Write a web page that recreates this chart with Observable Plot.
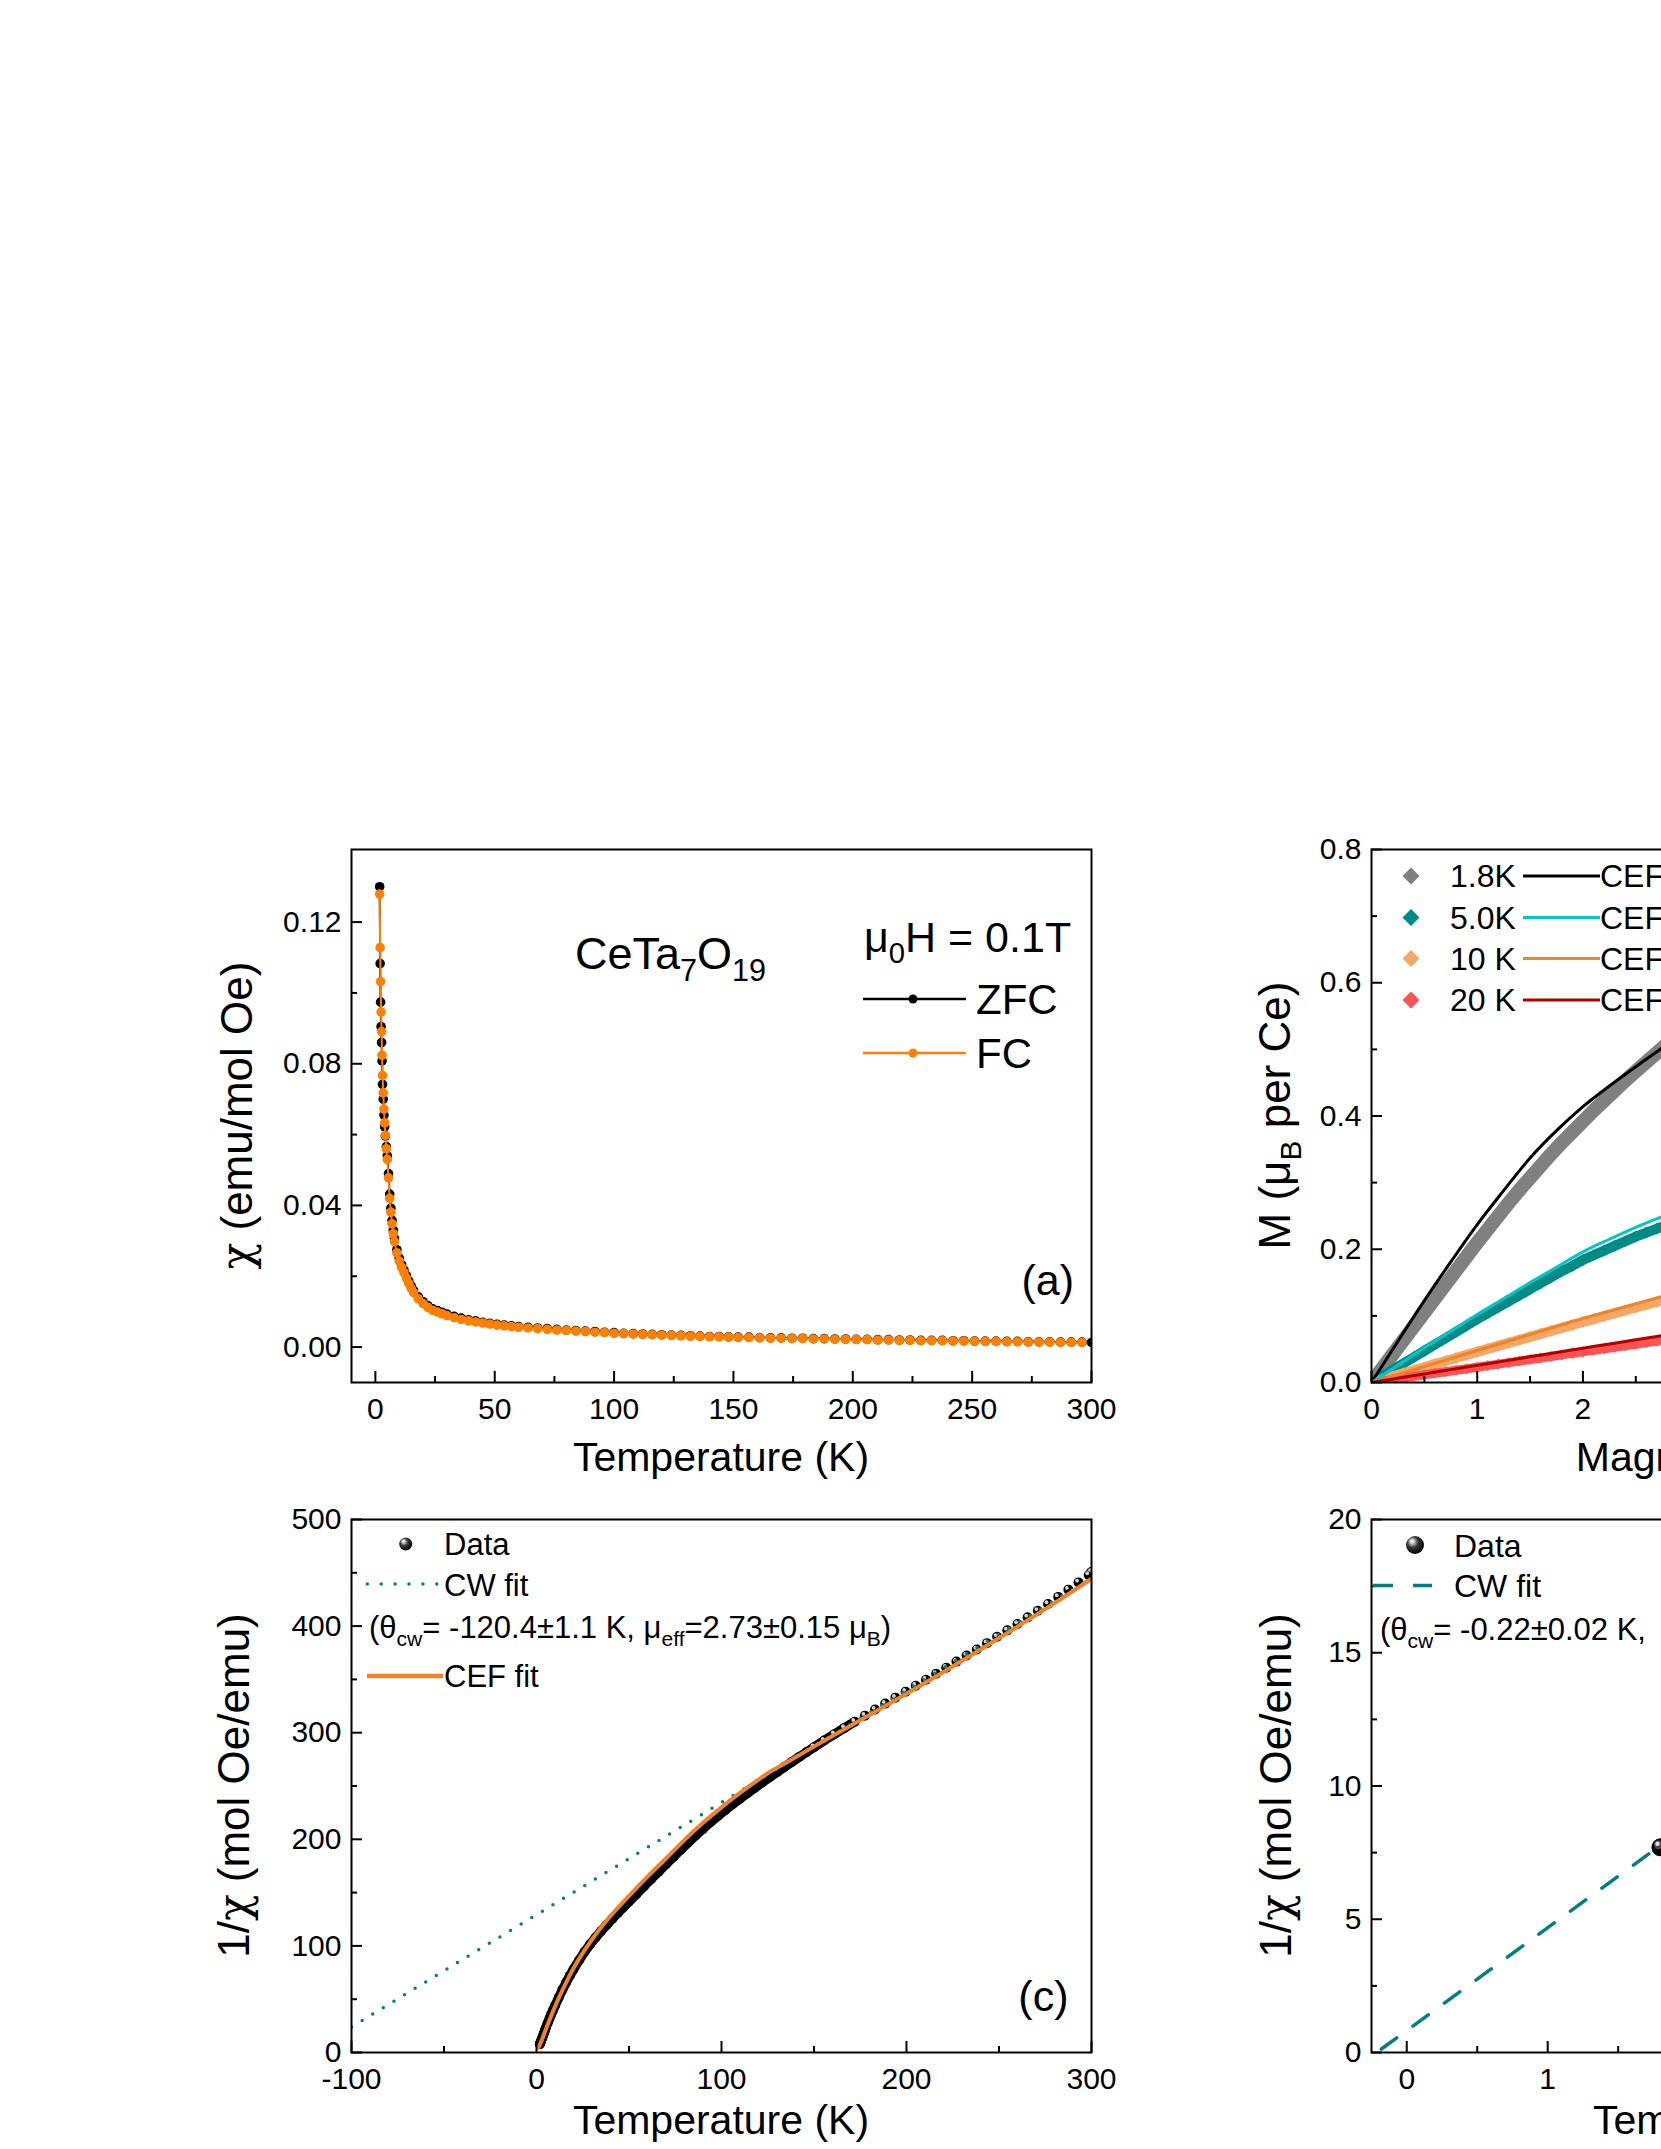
<!DOCTYPE html>
<html>
<head>
<meta charset="utf-8">
<script src="https://cdn.jsdelivr.net/npm/d3@7"></script>
<script src="https://cdn.jsdelivr.net/npm/@observablehq/plot@0.6"></script>
<style>
html, body { margin:0; padding:0; background:#fff; overflow:hidden; }
#fig { position:relative; width:1661px; height:2149px; overflow:hidden; background:#fff; }
#fig > svg { position:absolute; }
</style>
</head>
<body>
<div id="fig"></div>
<script>
// ================= DATA =================
// Panel (a): chi(T), ZFC and FC at mu0H = 0.1 T
const tempA = [
  1.8, 2.0, 2.2, 2.4, 2.6, 2.8, 3.0, 3.3, 3.6, 3.9, 4.2, 4.6, 5.0,
  5.5, 6.0, 6.5, 7.0, 7.5, 8, 9, 10, 11, 12, 13, 14, 15, 16,
  18, 20, 22, 24, 26, 28, 30, 33, 36, 39, 42, 45, 48, 51, 54, 57, 60,
  64, 68, 72, 76, 80, 84, 88, 92, 96, 100, 104, 108, 112, 116, 120, 124, 128, 132, 136, 140,
  144, 148, 152, 156.5, 161, 165.5, 170, 174.5, 179, 183.5, 188, 192.5, 197, 201.5, 206, 210.5, 215, 219.5, 224, 228.5,
  233, 237.5, 242, 246.5, 251, 255.5, 260, 264.5, 269, 273.5, 278, 282.5, 287, 291.5, 296, 300
];
const chiZFC = [
  0.1300, 0.1083, 0.0974, 0.0905, 0.0860, 0.0808, 0.0742, 0.0700, 0.0655, 0.0622, 0.0596, 0.0566, 0.0540,
  0.0490, 0.0432, 0.0392, 0.0358, 0.0330, 0.0307, 0.0275, 0.0251, 0.0233, 0.0217, 0.0202, 0.0187, 0.0173, 0.0160,
  0.0142, 0.0128, 0.0117, 0.0108, 0.0103, 0.0098, 0.0093, 0.0087, 0.0082, 0.0077, 0.0074, 0.0070, 0.0067, 0.0064, 0.0062, 0.0060, 0.0058,
  0.0056, 0.0054, 0.0052, 0.0050, 0.0048, 0.0047, 0.0045, 0.0044, 0.0042, 0.0041, 0.0039, 0.0038, 0.0037, 0.0036, 0.0035, 0.0034, 0.0033, 0.0032, 0.0031, 0.0030,
  0.0030, 0.0029, 0.0028, 0.0028, 0.0027, 0.0026, 0.0026, 0.0025, 0.0025, 0.0024, 0.0024, 0.0023, 0.0023, 0.0022, 0.0022, 0.0021, 0.0021, 0.0020, 0.0020, 0.0019,
  0.0019, 0.0019, 0.0018, 0.0018, 0.0017, 0.0017, 0.0017, 0.0016, 0.0016, 0.0015, 0.0015, 0.0015, 0.0014, 0.0014, 0.0014, 0.0013
];
const chiFC = [
  0.1279, 0.1128, 0.1032, 0.0946, 0.0891, 0.0824, 0.0767, 0.0718, 0.0672, 0.0633, 0.0598, 0.0560, 0.0530,
  0.0478, 0.0420, 0.0381, 0.0348, 0.0320, 0.0298, 0.0266, 0.0243, 0.0225, 0.0210, 0.0195, 0.0180, 0.0166, 0.0154,
  0.0136, 0.0123, 0.0112, 0.0104, 0.0099, 0.0094, 0.0089, 0.0083, 0.0078, 0.0074, 0.0071, 0.0068, 0.0065, 0.0062, 0.0060, 0.0058, 0.0056,
  0.0054, 0.0052, 0.0050, 0.0048, 0.0047, 0.0045, 0.0044, 0.0042, 0.0041, 0.0039, 0.0038, 0.0037, 0.0036, 0.0035, 0.0034, 0.0033, 0.0032, 0.0031, 0.0030, 0.0029,
  0.0029, 0.0028, 0.0027, 0.0027, 0.0026, 0.0025, 0.0025, 0.0024, 0.0024, 0.0023, 0.0023, 0.0022, 0.0022, 0.0021, 0.0021, 0.0020, 0.0020, 0.0019, 0.0019, 0.0018,
  0.0018, 0.0018, 0.0017, 0.0017, 0.0016, 0.0016, 0.0016, 0.0015, 0.0015, 0.0014, 0.0014, 0.0014, 0.0013, 0.0013, 0.0013
];
const xTicksA = [0, 50, 100, 150, 200, 250, 300];
const xMinorA = [25, 75, 125, 175, 225, 275];
const yTicksA = [0, 0.04, 0.08, 0.12];
const yMinorA = [0.02, 0.06, 0.10];

// Panel (b): M(H) at four temperatures + CEF fits
const fieldH = [0, 0.1, 0.2, 0.3, 0.4, 0.5, 0.6, 0.7, 0.8, 0.9, 1.0, 1.1, 1.2, 1.3, 1.4, 1.5, 1.6, 1.7, 1.8, 1.9, 2.0, 2.1, 2.2, 2.3, 2.4, 2.5, 2.6, 2.7, 2.8, 2.9];
const mag18K = [0, 0.021, 0.042, 0.063, 0.084, 0.105, 0.126, 0.147, 0.168, 0.189, 0.210, 0.230, 0.250, 0.270, 0.289, 0.307, 0.325, 0.343, 0.360, 0.376, 0.392, 0.408, 0.423, 0.438, 0.453, 0.467, 0.481, 0.495, 0.509, 0.522];
const mag50K = [0, 0.0095, 0.019, 0.0285, 0.038, 0.0475, 0.057, 0.0665, 0.076, 0.0855, 0.095, 0.104, 0.113, 0.122, 0.131, 0.140, 0.149, 0.158, 0.167, 0.175, 0.184, 0.191, 0.198, 0.205, 0.212, 0.219, 0.225, 0.231, 0.237, 0.243];
const mag10K = [0, 0.0046, 0.0092, 0.0138, 0.0184, 0.023, 0.0276, 0.0322, 0.0368, 0.0414, 0.046, 0.0505, 0.055, 0.0595, 0.064, 0.0685, 0.073, 0.0775, 0.082, 0.0864, 0.0908, 0.0952, 0.0996, 0.104, 0.1083, 0.1126, 0.1168, 0.121, 0.1252, 0.1293];
const mag20K = [0, 0.0023, 0.0046, 0.0069, 0.0092, 0.0115, 0.0138, 0.0161, 0.0184, 0.0207, 0.023, 0.0253, 0.0276, 0.0299, 0.0322, 0.0345, 0.0368, 0.0391, 0.0414, 0.0437, 0.046, 0.0483, 0.0506, 0.0529, 0.0552, 0.0575, 0.0598, 0.0621, 0.0644, 0.0667];
const fitH = [0, 0.25, 0.5, 0.75, 1.0, 1.25, 1.5, 1.75, 2.0, 2.25, 2.5, 2.75, 3.0];
const fit18K = [0, 0.062, 0.123, 0.181, 0.237, 0.288, 0.337, 0.378, 0.414, 0.445, 0.474, 0.502, 0.528];
const fit50K = [0, 0.026, 0.052, 0.077, 0.102, 0.126, 0.150, 0.173, 0.196, 0.215, 0.233, 0.249, 0.264];
const fit10K = [0, 0.012, 0.024, 0.036, 0.048, 0.060, 0.072, 0.084, 0.096, 0.107, 0.118, 0.129, 0.140];
const fit20K = [0, 0.0064, 0.0129, 0.0193, 0.0257, 0.0321, 0.0385, 0.045, 0.0514, 0.0578, 0.0642, 0.0705, 0.0768];
const seriesLabelsB = ["1.8K", "5.0K", "10 K", "20 K"];
const xTicksB = [0, 1, 2, 3, 4, 5, 6, 7];
const xMinorB = [0.5, 1.5, 2.5, 3.5, 4.5, 5.5, 6.5];
const yTicksB = [0, 0.2, 0.4, 0.6, 0.8];
const yMinorB = [0.1, 0.3, 0.5, 0.7];

// Panel (c): 1/chi(T) with Curie-Weiss and CEF fits
const tempC = [
  1.8, 2.0, 2.3, 2.6, 3.0, 3.5, 4.0, 4.5, 5.0,
  6, 7, 8, 9, 10, 12, 14, 16, 18, 20,
  23, 26, 29, 32, 35, 38, 41, 44, 47, 50,
  54, 58, 62, 66, 70, 74, 78, 82, 86, 90,
  94, 98, 102, 106, 110, 114, 118, 122, 126, 130,
  134, 138, 142, 146, 150,
  155.5, 161, 166.5, 172, 177.5, 183, 188.5, 194, 199.5, 205,
  210.5, 216, 221.5, 227, 232.5, 238, 243.5, 249, 254.5, 260,
  265.5, 271, 276.5, 282, 287.5, 293, 298.5, 300
];
const invChi = [
  7.7, 8.6, 10.0, 11.4, 13.3, 15.7, 18.1, 20.5, 22.9,
  27.5, 31.8, 36.0, 40.0, 43.9, 51.5, 58.8, 65.6, 72.0, 78.0,
  86.5, 94.5, 101.5, 108.0, 114.0, 119.8, 125.4, 130.9, 136.3, 141.6,
  148.6, 155.8, 162.8, 169.6, 176.6, 183.5, 190.3, 197.0, 203.5, 209.8,
  216.0, 221.8, 227.4, 232.8, 238.0, 243.2, 248.3, 253.3, 258.2, 263.0,
  267.8, 272.5, 277.2, 281.8, 286.4,
  292.6, 298.6, 304.5, 310.3, 316.0, 321.7, 327.3, 332.9, 338.5, 344.1,
  349.7, 355.3, 361.0, 366.7, 372.4, 378.1, 384.0, 390.0, 396.0, 402.0,
  408.2, 414.4, 420.8, 427.4, 434.2, 441.0, 448.0, 451.0
];
const tempCEF = [1, 2, 5, 10, 15, 20, 30, 40, 50, 60, 70, 80, 90, 100, 110, 120, 125, 130, 140, 150, 160, 180, 200, 220, 240, 260, 280, 300];
const invCEF  = [4.5, 8.0, 21.5, 43.0, 62.0, 79.0, 106.0, 128.0, 147.0, 165.0, 182.0, 199.5, 215.5, 230.0, 243.5, 256.0, 262.0, 267.0, 277.0, 287.0, 297.0, 316.5, 336.5, 357.0, 378.0, 399.5, 421.5, 444.5];
const tempCW = [-100, 300];
const invCW  = [24, 445];
const xTicksC = [-100, 0, 100, 200, 300];
const xMinorC = [-50, 50, 150, 250];
const yTicksC = [0, 100, 200, 300, 400, 500];
const yMinorC = [50, 150, 250, 350, 450];

// Panel (d): low-temperature 1/chi with Curie-Weiss fit
const tempD = [1.8, 2.0, 2.3, 2.6, 3.0, 3.5, 4.0, 4.5, 5.0];
const invD  = [7.7, 8.6, 10.0, 11.4, 13.3, 15.7, 18.1, 20.5, 22.9];
const tempCWD = [-0.18, 3.0];
const invCWD  = [0.13, 12.4];
const xTicksD = [0, 1, 2, 3, 4, 5];
const xMinorD = [0.5, 1.5, 2.5, 3.5, 4.5];
const yTicksD = [0, 5, 10, 15, 20];
const yMinorD = [2.5, 7.5, 12.5, 17.5];

// ================= LAYOUT / DRAWING =================
const FONT = '"Liberation Sans", Arial, Helvetica, sans-serif';
const fig = document.getElementById("fig");
const FW = 740, FH = 533;
const MG = {l: 150, r: 40, t: 30, b: 100};
const TICKFONT = 30;

function makePanel(frameLeft, frameTop, xDomain, yDomain, tk, marks) {
  const svg = Plot.plot({
    width: FW + MG.l + MG.r, height: FH + MG.t + MG.b,
    marginLeft: MG.l, marginRight: MG.r, marginTop: MG.t, marginBottom: MG.b,
    x: {domain: xDomain},
    y: {domain: yDomain},
    style: {fontFamily: FONT, fontSize: TICKFONT + "px", color: "black", background: "transparent", overflow: "visible"},
    marks: [
      ...marks,
      Plot.tickX(tk.xMinor, {x: d => d, insetTop: FH - 6, stroke: "black", strokeWidth: 2}),
      Plot.tickX(tk.xMajor, {x: d => d, insetTop: FH - 11, stroke: "black", strokeWidth: 2}),
      Plot.tickY(tk.yMinor, {y: d => d, insetRight: FW - 6, stroke: "black", strokeWidth: 2}),
      Plot.tickY(tk.yMajor, {y: d => d, insetRight: FW - 11, stroke: "black", strokeWidth: 2}),
      Plot.axisX(tk.xMajor, {anchor: "bottom", tickSize: 0, tickPadding: 15, tickFormat: tk.xFmt, label: null, fontSize: TICKFONT}),
      Plot.axisY(tk.yMajor, {anchor: "left", tickSize: 0, tickPadding: 10, tickFormat: tk.yFmt, label: null, fontSize: TICKFONT}),
      Plot.frame({stroke: "black", strokeWidth: 2})
    ]
  });
  svg.style.position = "absolute";
  svg.style.left = (frameLeft - MG.l) + "px";
  svg.style.top = (frameTop - MG.t) + "px";
  fig.appendChild(svg);
}
const fmtInt = d => String(d);

// ---- (a)
const zfcRows = chiZFC.map((v, i) => ({T: tempA[i], chi: v}));
const fcRows = chiFC.map((v, i) => ({T: tempA[i], chi: v}));
const ORANGE_A = "#FF8000";
makePanel(351, 849, [-10, 300], [-0.01, 0.1405],
  {xMajor: xTicksA, xMinor: xMinorA, yMajor: yTicksA, yMinor: yMinorA, xFmt: fmtInt, yFmt: d => d.toFixed(2)},
  [
    Plot.line(zfcRows, {x: "T", y: "chi", stroke: "black", strokeWidth: 2, clip: true}),
    Plot.dot(zfcRows, {x: "T", y: "chi", r: 4.8, fill: "black", clip: true}),
    Plot.line(fcRows, {x: "T", y: "chi", stroke: ORANGE_A, strokeWidth: 2, clip: true}),
    Plot.dot(fcRows, {x: "T", y: "chi", r: 4.8, fill: ORANGE_A, clip: true})
  ]);

// ---- (b)
const seriesB = [
  {data: mag18K, fit: fit18K, color: "#808080", fitColor: "#000000", band: 14, r: 7.2},
  {data: mag50K, fit: fit50K, color: "#008B86", fitColor: "#00C8C8", band: 10, r: 5.4},
  {data: mag10K, fit: fit10K, color: "#F5A865", fitColor: "#F08228", band: 10, r: 5.4},
  {data: mag20K, fit: fit20K, color: "#FF5252", fitColor: "#B00000", band: 9, r: 5}
];
makePanel(1371, 849, [0, 7], [0, 0.8],
  {xMajor: xTicksB, xMinor: xMinorB, yMajor: yTicksB, yMinor: yMinorB, xFmt: fmtInt, yFmt: d => d.toFixed(1)},
  [
    ...seriesB.flatMap(s => {
      const rows = s.data.map((m, i) => ({H: fieldH[i], M: m}));
      return [
        Plot.line(rows, {x: "H", y: "M", stroke: s.color, strokeWidth: s.band, clip: true}),
        Plot.dot(rows, {x: "H", y: "M", symbol: "diamond2", r: s.r, fill: s.color, clip: true})
      ];
    }),
    ...seriesB.map(s => Plot.line(s.fit.map((m, i) => ({H: fitH[i], M: m})),
      {x: "H", y: "M", stroke: s.fitColor, strokeWidth: 3, curve: "monotone-x", clip: true}))
  ]);

// ---- (c)
const cRows = invChi.map((v, i) => ({T: tempC[i], inv: v}));
const cefRows = invCEF.map((v, i) => ({T: tempCEF[i], inv: v}));
const cwRows = invCW.map((v, i) => ({T: tempCW[i], inv: v}));
const TEAL = "#008080";
const ORANGE_C = "#F08228";
makePanel(351, 1519, [-100, 300], [0, 500],
  {xMajor: xTicksC, xMinor: xMinorC, yMajor: yTicksC, yMinor: yMinorC, xFmt: fmtInt, yFmt: fmtInt},
  [
    Plot.line(cRows.filter(d => d.T <= 172), {x: "T", y: "inv", stroke: "black", strokeWidth: 9.5, clip: true}),
    Plot.dot(cRows, {x: "T", y: "inv", r: 5, fill: "black", clip: true}),
    Plot.dot(cRows.filter(d => d.T >= 150), {x: "T", y: "inv", r: 1.9, fill: "#d4d4d4", dx: -1.5, dy: -1.7, clip: true}),
    Plot.line(cwRows, {x: "T", y: "inv", stroke: TEAL, strokeWidth: 3.5, strokeDasharray: "0,12.4", strokeLinecap: "round", clip: true}),
    Plot.line(cefRows, {x: "T", y: "inv", stroke: ORANGE_C, strokeWidth: 4, curve: "monotone-x", clip: true})
  ]);

// ---- (d)
const dRows = invD.map((v, i) => ({T: tempD[i], inv: v}));
const cwdRows = invCWD.map((v, i) => ({T: tempCWD[i], inv: v}));
makePanel(1371, 1519, [-0.25, 5], [0, 20],
  {xMajor: xTicksD, xMinor: xMinorD, yMajor: yTicksD, yMinor: yMinorD, xFmt: fmtInt, yFmt: fmtInt},
  [
    Plot.line(cwdRows, {x: "T", y: "inv", stroke: TEAL, strokeWidth: 3.5, strokeDasharray: "19,20", clip: true}),
    Plot.dot(dRows, {x: "T", y: "inv", r: 9, fill: "black", clip: true}),
    Plot.dot(dRows, {x: "T", y: "inv", r: 4.5, fill: "#4a4a4a", dx: -2, dy: -2.5, clip: true}),
    Plot.dot(dRows, {x: "T", y: "inv", r: 2.2, fill: "#e0e0e0", dx: -3, dy: -3.5, clip: true})
  ]);

// ================= OVERLAY: titles, legends, annotations =================
const ov = d3.create("svg")
  .attr("width", 1661).attr("height", 2149)
  .attr("font-family", FONT)
  .style("left", "0px").style("top", "0px").style("position", "absolute");
const defs = ov.append("defs");
const grad = defs.append("radialGradient").attr("id", "sph")
  .attr("cx", "0.42").attr("cy", "0.40").attr("r", "0.6").attr("fx", "0.32").attr("fy", "0.28");
[[0, "#ffffff"], [0.18, "#cfcfcf"], [0.5, "#3a3a3a"], [1, "#000000"]].forEach(([o, c]) =>
  grad.append("stop").attr("offset", o).attr("stop-color", c));

function rich(x, y, parts, size, opt = {}) {
  const t = ov.append("text").attr("x", x).attr("y", y).attr("font-size", size).attr("fill", "black");
  if (opt.anchor) t.attr("text-anchor", opt.anchor);
  if (opt.rotate) t.attr("transform", `rotate(-90 ${x} ${y})`);
  let shifted = 0;
  for (const p of parts) {
    const s = typeof p === "string" ? {t: p} : p;
    const ts = t.append("tspan").text(s.t);
    if (s.greek) ts.attr("font-family", '"DejaVu Serif", serif');
    if (s.sub) {
      const d = size * 0.26;
      ts.attr("font-size", size * 0.68).attr("dy", d - shifted);
      shifted = d;
    } else if (shifted) {
      ts.attr("dy", -shifted);
      shifted = 0;
    }
  }
  return t;
}
function seg(x1, y1, x2, y2, color, w, dash, cap) {
  const l = ov.append("line").attr("x1", x1).attr("y1", y1).attr("x2", x2).attr("y2", y2)
    .attr("stroke", color).attr("stroke-width", w);
  if (dash) l.attr("stroke-dasharray", dash);
  if (cap) l.attr("stroke-linecap", cap);
}

// Axis titles
rich(721, 1471, ["Temperature (K)"], 41, {anchor: "middle"});
rich(1741, 1471, ["Magnetic Field (T)"], 41, {anchor: "middle"});
rich(721, 2134, ["Temperature (K)"], 41, {anchor: "middle"});
rich(1741, 2134, ["Temperature (K)"], 41, {anchor: "middle"});
rich(252, 1115.5, [{t: "χ", greek: true}, " (emu/mol Oe)"], 44, {anchor: "middle", rotate: true});
rich(1290, 1115.5, ["M (μ", {t: "B", sub: true}, " per Ce)"], 44, {anchor: "middle", rotate: true});
rich(249, 1785.5, ["1/", {t: "χ", greek: true}, " (mol Oe/emu)"], 44, {anchor: "middle", rotate: true});
rich(1291, 1785.5, ["1/", {t: "χ", greek: true}, " (mol Oe/emu)"], 44, {anchor: "middle", rotate: true});

// Panel (a) annotations and legend
rich(575, 969, ["CeTa", {t: "7", sub: true}, "O", {t: "19", sub: true}], 45);
rich(864, 952, ["μ", {t: "0", sub: true}, "H = 0.1T"], 43);
seg(863, 999, 966, 999, "black", 2.5);
ov.append("circle").attr("cx", 913).attr("cy", 999).attr("r", 4.5).attr("fill", "black");
rich(976, 1014, ["ZFC"], 42);
seg(863, 1053, 966, 1053, ORANGE_A, 2.5);
ov.append("circle").attr("cx", 913).attr("cy", 1053).attr("r", 4.5).attr("fill", ORANGE_A);
rich(976, 1068, ["FC"], 42);
rich(1074, 1295, ["(a)"], 43, {anchor: "end"});

// Panel (b) legend
const rowY = [876, 917.5, 958.5, 1000];
seriesB.forEach((s, i) => {
  const y = rowY[i];
  ov.append("polygon").attr("points", `1411,${y - 8.5} 1419.5,${y} 1411,${y + 8.5} 1402.5,${y}`).attr("fill", s.color);
  rich(1450, y + 11, [seriesLabelsB[i]], 32);
  seg(1523, y, 1600, y, s.fitColor, 3);
  rich(1600, y + 11, ["CEF fit"], 32);
});

// Panel (c) legend
ov.append("circle").attr("cx", 405.7).attr("cy", 1544).attr("r", 6.5).attr("fill", "url(#sph)");
rich(444, 1555, ["Data"], 31);
seg(367.3, 1584, 439, 1584, TEAL, 3.5, "0,13.9", "round");
rich(444, 1596, ["CW fit"], 31);
rich(369, 1638, ["(θ", {t: "cw", sub: true}, "= -120.4±1.1 K, μ", {t: "eff", sub: true}, "=2.73±0.15 μ", {t: "B", sub: true}, ")"], 31);
seg(367, 1676, 443, 1676, ORANGE_C, 4.5);
rich(444, 1687, ["CEF fit"], 31);
rich(1068.5, 2011, ["(c)"], 43, {anchor: "end"});

// Panel (d) legend
ov.append("circle").attr("cx", 1415).attr("cy", 1545).attr("r", 9).attr("fill", "url(#sph)");
rich(1454, 1557, ["Data"], 32);
seg(1373, 1585.5, 1432, 1585.5, TEAL, 3.5, "20,20");
rich(1454, 1597, ["CW fit"], 32);
rich(1380, 1640, ["(θ", {t: "cw", sub: true}, "= -0.22±0.02 K,"], 31);

fig.appendChild(ov.node());
</script>
</body>
</html>
